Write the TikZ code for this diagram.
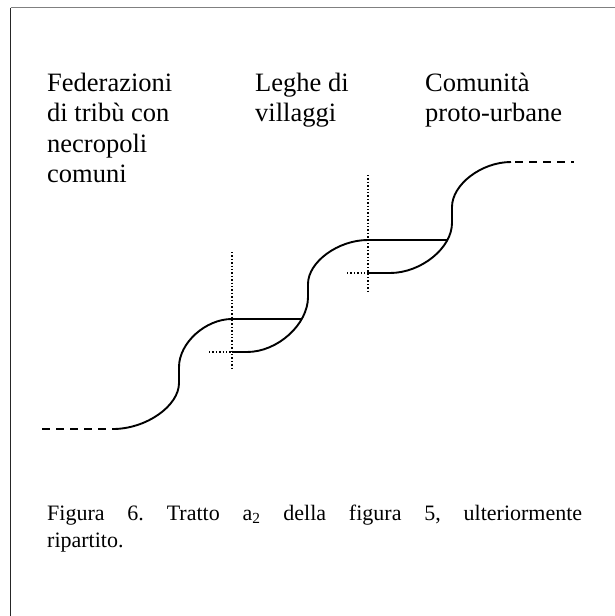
\documentclass[tikz,border=0pt]{standalone}
\usepackage{fontspec}
\setmainfont{Liberation Serif}
\usetikzlibrary{intersections}
\frenchspacing
\begin{document}
\begin{tikzpicture}[x=1pt,y=-1pt,
  curve/.style={line width=1.9pt, line cap=butt, line join=round},
  dotline/.style={line width=1.6pt, dash pattern=on 1.4pt off 2.0pt},
  dashline/.style={line width=1.8pt, dash pattern=on 7.5pt off 6.5pt},
  head/.style={anchor=base west, inner sep=0pt, font=\fontsize{26.5}{30.5}\selectfont},
  capt/.style={anchor=base west, inner sep=0pt, font=\fontsize{22}{27}\selectfont},
  ]
\useasboundingbox (0,0) rectangle (615,616);
% frame
\coordinate (fTL) at (10.5,7.5);
\coordinate (fTR) at (615,7.5);
\coordinate (fBL) at (10.5,616);
\draw[gray, line width=1.4pt] (fTL) -- (fTR);
\draw[black!85, line width=1.3pt] (fTL) -- (fBL);

% headings
\node[head] (fed) at (47,91) {\begin{tabular}[t]{@{}l@{}}Federazioni\\di tribù con\\necropoli\\comuni\end{tabular}};
\node[head] (leg) at (255,91) {\begin{tabular}[t]{@{}l@{}}Leghe di\\villaggi\end{tabular}};
\node[head] (com) at (425,91) {\begin{tabular}[t]{@{}l@{}}Comunità\\proto-urbane\end{tabular}};

% caption
\node[capt] (cap) at (47,520) {\begin{tabular}[t]{@{}l@{}}\makebox[535pt][s]{Figura 6. Tratto a\textsubscript{2} della figura 5, ulteriormente}\\ripartito.\end{tabular}};

% key points
\coordinate (d0) at (42,429);
\coordinate (s1) at (113,429);
\coordinate (e1) at (232,319);
\coordinate (l2) at (232,352);
\coordinate (e2) at (368,240);
\coordinate (l3) at (368,273);
\coordinate (e3) at (511,162);
\coordinate (d1a) at (515,162);
\coordinate (d1b) at (574,162);

% dashed ends
\draw[dashline] (d0) -- (s1);
\draw[dashline] (d1a) -- (d1b);

% dotted guides
\coordinate (v1t) at (232,252);
\coordinate (v1b) at (232,368);
\coordinate (g1) at (209,352);
\coordinate (v2t) at (368,175);
\coordinate (v2b) at (368,293);
\coordinate (g2) at (347,273);
\draw[dotline] (v1t) -- (v1b);
\draw[dotline] (g1) -- (l2);
\draw[dotline] (v2t) -- (v2b);
\draw[dotline] (g2) -- (l3);

% S-curves
\draw[curve] (s1) .. controls (146,429) and (179,406) .. (179,383) -- (179,367)
  .. controls (179,343) and (205.5,319) .. (e1);
\draw[curve, name path=c2] (l2) -- (247,352) .. controls (277.5,352) and (308,324.5) .. (308,297)
  -- (308,284) .. controls (308,262) and (338,240) .. (e2);
\draw[curve, name path=c3] (l3) -- (390,273) .. controls (421,273) and (452,248) .. (452,223)
  -- (452,207) .. controls (452,184.5) and (481.5,162) .. (e3);

% landings
\path[name path=h1] (e1) -- (340,319);
\path[name path=h2] (e2) -- (480,240);
\draw[curve, name intersections={of=c2 and h1, by={x1}}] (e1) -- (x1);
\draw[curve, name intersections={of=c3 and h2, by={x2}}] (e2) -- (x2);
\end{tikzpicture}
\end{document}
